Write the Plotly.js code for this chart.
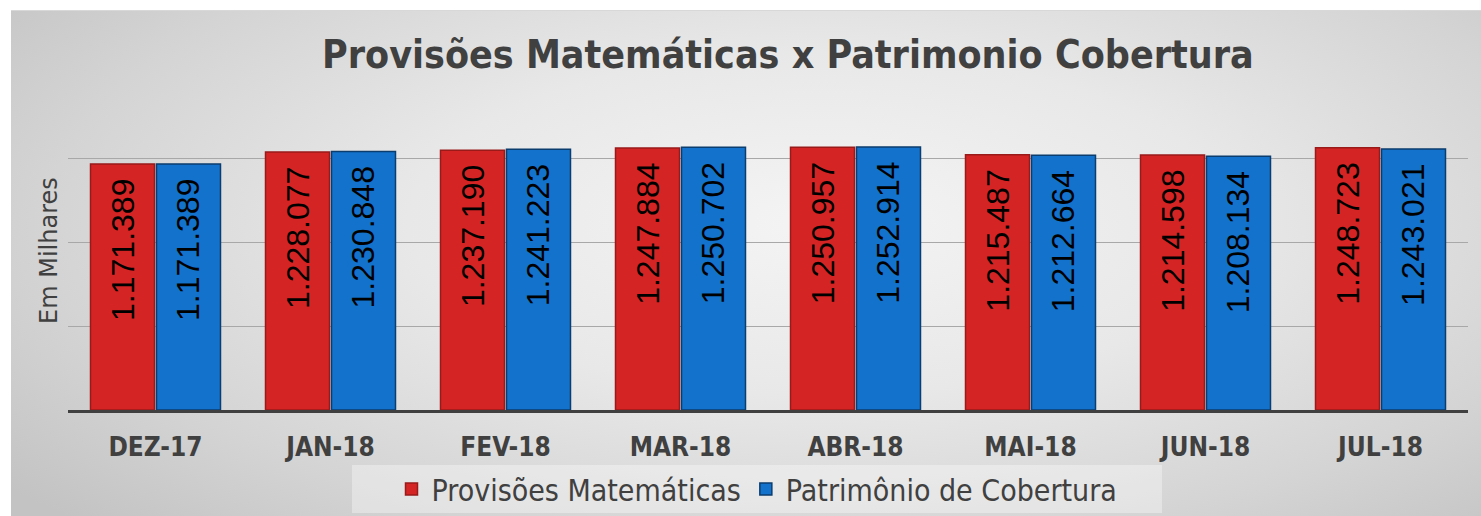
<!DOCTYPE html>
<html>
<head>
<meta charset="utf-8">
<script src="https://cdn.plot.ly/plotly-3.0.1.min.js"></script>
<style>
  html, body { margin:0; padding:0; background:#ffffff; }
  #frame { position:absolute; left:11px; top:10px; width:1470px; height:506px;
    background: radial-gradient(ellipse 70% 85% at 55% 42%, #f4f4f4 0%, #e8e8e8 40%, #d4d4d4 75%, #c3c3c3 100%);
    border-top:1px solid #d8d8d8; }
  #chart { position:absolute; left:0; top:0; width:1481px; height:516px; }
</style>
</head>
<body>
<div id="frame"></div>
<div id="chart"></div>
<script>
const categories = ["DEZ-17","JAN-18","FEV-18","MAR-18","ABR-18","MAI-18","JUN-18","JUL-18"];
const provisoes = [1171389, 1228077, 1237190, 1247884, 1250957, 1215487, 1214598, 1248723];
const patrimonio = [1171389, 1230848, 1241223, 1250702, 1252914, 1212664, 1208134, 1243021];
const seriesNames = ["Provisões Matemáticas", "Patrimônio de Cobertura"];
const gridVals = [400000, 800000, 1200000];

const labelFont = {family:"Liberation Sans, Arial, sans-serif", size:32, color:"#000000"};
const pad = "\u00a0\u200a";
const condensed = "DejaVu Sans Condensed, DejaVu Sans, sans-serif";

const traces = [
  {type:"bar", name:seriesNames[0], x:categories, y:provisoes,
   marker:{color:"#d52424", line:{color:"#9a1a1a", width:1.5}},
   texttemplate:"%{y:,}"+pad, textposition:"inside", insidetextanchor:"end",
   textangle:-90, textfont:labelFont, insidetextfont:labelFont, hoverinfo:"skip"},
  {type:"bar", name:seriesNames[1], x:categories, y:patrimonio,
   marker:{color:"#1272cc", line:{color:"#0b3d6e", width:1.5}},
   texttemplate:"%{y:,}"+pad, textposition:"inside", insidetextanchor:"end",
   textangle:-90, textfont:labelFont, insidetextfont:labelFont, hoverinfo:"skip"}
];

const layout = {
  width:1481, height:516,
  paper_bgcolor:"rgba(0,0,0,0)", plot_bgcolor:"rgba(0,0,0,0)",
  separators:",.",
  margin:{l:68, r:13, t:116, b:106},
  barmode:"group", bargap:0.246, bargroupgap:0.03,
  title:{text:"<b>Provisões Matemáticas x Patrimonio Cobertura</b>",
    font:{family:condensed, size:39, color:"#404040"},
    x:0.532, xref:"container", xanchor:"center", y:1-54/516, yref:"container", yanchor:"middle"},
  xaxis:{type:"category", showgrid:false, showline:true, linecolor:"#404040", linewidth:3,
    ticks:"outside", ticklen:12, tickcolor:"rgba(0,0,0,0)",
    tickfont:{family:condensed, size:26, color:"#404040", weight:"bold"},
    fixedrange:true, automargin:false},
  yaxis:{range:[0,1400000], tickvals:gridVals, showticklabels:false, showgrid:true,
    gridcolor:"#a8a8a8", gridwidth:1, zeroline:false, showline:false, fixedrange:true, automargin:false},
  showlegend:true,
  legend:{orientation:"h", x:(757-68)/1400, xanchor:"center",
    yref:"container", y:1-489/516, yanchor:"middle",
    bgcolor:"rgba(0,0,0,0)", borderwidth:0,
    font:{family:condensed, size:30, color:"#404040"},
    itemwidth:30, traceorder:"normal"},
  shapes:[{type:"rect", xref:"paper", yref:"paper", layer:"below",
    x0:(352-68)/1400, x1:(1162-68)/1400, y0:(410-465)/294, y1:(410-513)/294,
    fillcolor:"rgba(255,255,255,0.35)", line:{width:0}}],
  annotations:[{text:"Em Milhares", xref:"paper", yref:"paper", x:0, xshift:-19, y:(410-251)/294,
    xanchor:"center", yanchor:"middle", textangle:-90, showarrow:false,
    font:{family:"DejaVu Sans, sans-serif", size:24, color:"#404040"}}]
};

Plotly.newPlot("chart", traces, layout, {staticPlot:true, displayModeBar:false});
</script>
</body>
</html>
